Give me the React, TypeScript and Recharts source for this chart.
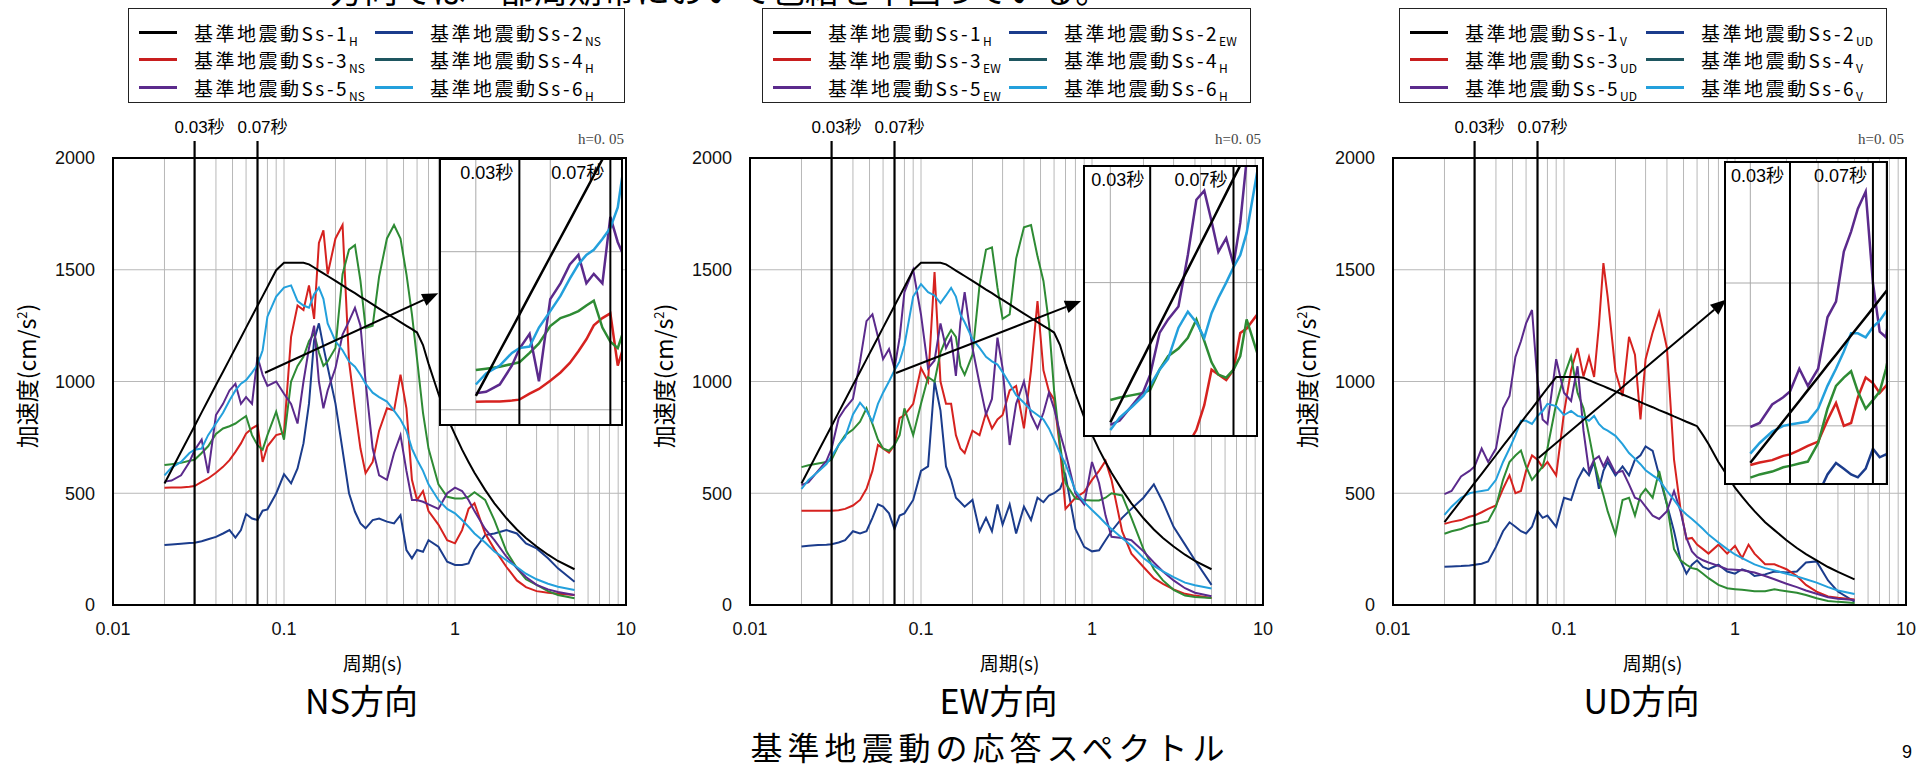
import React from "react"
import {
  CartesianGrid,
  ComposedChart,
  Line,
  ReferenceArea,
  ReferenceLine,
  XAxis,
  YAxis,
} from "recharts"

// periods (s) shared by every series
const PERIODS = [
  0.02, 0.022, 0.025, 0.028, 0.03, 0.033, 0.036, 0.04, 0.044, 0.048,
  0.052, 0.056, 0.06, 0.065, 0.07, 0.075, 0.08, 0.09, 0.1, 0.11,
  0.12, 0.13, 0.14, 0.15, 0.16, 0.17, 0.18, 0.2, 0.22, 0.24,
  0.26, 0.28, 0.3, 0.33, 0.36, 0.4, 0.44, 0.48, 0.52, 0.56,
  0.6, 0.65, 0.7, 0.8, 0.9, 1.0, 1.1, 1.2, 1.3, 1.5,
  1.7, 2.0, 2.3, 2.6, 3.0, 3.5, 4.0, 5.0,
]

// Ss-1 (horizontal, same for NS and EW) and Ss-1 vertical
const SS1_H = [
  544, 604, 686, 757, 801, 862, 917, 984, 1044, 1099,
  1150, 1197, 1241, 1292, 1339, 1382, 1423, 1498, 1531, 1531,
  1531, 1531, 1524, 1510, 1496, 1484, 1472, 1450, 1430, 1411,
  1395, 1379, 1365, 1345, 1326, 1304, 1284, 1266, 1249, 1234,
  1219, 1163, 1080, 945, 840, 762, 695, 640, 592, 515,
  455, 388, 338, 300, 262, 225, 197, 160,
]
const SS1_V = [
  371, 412, 467, 516, 546, 587, 625, 670, 712, 749,
  784, 816, 846, 880, 912, 942, 970, 1020, 1020, 1020,
  1020, 1017, 1006, 996, 987, 979, 971, 956, 942, 930,
  919, 908, 898, 885, 872, 858, 844, 832, 820, 810,
  800, 760, 720, 640, 580, 525, 485, 450, 420, 370,
  335, 290, 255, 228, 200, 170, 148, 115,
]

// NS direction
const NS_SS2 = [
  268, 271, 274, 277, 279, 285, 294, 305, 320, 335,
  302, 335, 407, 387, 380, 422, 428, 499, 585, 544,
  611, 723, 901, 1185, 1260, 1155, 1065, 901, 693, 500,
  417, 365, 343, 380, 387, 373, 365, 402, 246, 209,
  246, 238, 290, 261, 194, 179, 179, 186, 246, 313,
  320, 335, 320, 276, 253, 209, 164, 104,
]
const NS_SS3 = [
  525, 526, 526, 529, 532, 551, 566, 592, 618, 648,
  685, 723, 767, 790, 805, 640, 710, 760, 770, 1200,
  1340, 1320, 1430, 1280, 1620, 1676, 1480, 1640, 1700, 1090,
  880, 700, 590, 640, 780, 880, 870, 1030, 880, 560,
  470, 510, 420, 360, 290, 276, 335, 430, 455, 320,
  250, 170, 110, 80, 62, 55, 50, 45,
]
const NS_SS4 = [
  626, 630, 636, 645, 650, 680, 710, 765, 790, 800,
  812, 830, 845, 760, 715, 695, 760, 865, 740, 1000,
  1070, 1110, 1180, 1215, 1130, 1070, 1090, 1150, 1480, 1590,
  1610, 1450, 1240, 1250, 1470, 1640, 1700, 1640, 1480, 1300,
  1100, 860, 700, 540, 484, 477, 477, 484, 505, 470,
  380, 240, 165, 115, 90, 62, 45, 30,
]
const NS_SS5 = [
  552, 557, 580, 640, 693, 740, 590, 850, 900, 960,
  990, 900, 930, 900, 1110, 1030, 980, 1000, 945, 900,
  812, 1000, 1150, 1250, 1000, 880, 960, 1060, 1210, 1270,
  1330, 1250, 1000, 700, 580, 560, 680, 760, 600, 470,
  470, 462, 450, 430, 500, 525, 510, 470, 420, 340,
  290, 216, 165, 125, 90, 70, 58, 45,
]
const NS_SS6 = [
  580, 615, 640, 680, 695, 700, 760, 812, 860, 915,
  960, 990, 1006, 1040, 1075, 1140, 1290, 1380, 1420, 1430,
  1360, 1340, 1330, 1390, 1420, 1370, 1260, 1180, 1140, 1090,
  1066, 1030, 990, 950, 930, 910, 870, 830, 780, 700,
  650, 600, 540, 470, 430, 410, 380, 350, 320, 280,
  240, 200, 170, 140, 115, 95, 82, 67,
]

// EW direction
const EW_SS2 = [
  262, 265, 268, 270, 272, 280, 290, 330, 320, 330,
  390, 450, 440, 410, 340, 400, 410, 470, 600, 620,
  1000, 870, 620, 560, 480, 460, 440, 470, 330, 390,
  330, 450, 360, 450, 320, 440, 380, 480, 460, 490,
  500, 520, 580, 340, 260, 240, 245, 290, 330, 390,
  430, 480, 540, 460, 350, 270, 200, 90,
]
const EW_SS3 = [
  422, 422, 422, 422, 422, 424, 430, 445, 470, 520,
  600, 716, 700, 682, 716, 836, 850, 900, 1060, 1000,
  1490, 1000, 900, 900, 760, 700, 680, 780, 760, 860,
  790, 830, 850, 960, 980, 790, 1050, 1360, 1050, 956,
  920, 700, 430, 480, 505, 560, 600, 645, 560, 330,
  230, 170, 120, 95, 70, 50, 42, 31,
]
const EW_SS4 = [
  617, 625, 633, 640, 650, 716, 760, 785, 820, 880,
  810, 740, 700, 690, 716, 760, 880, 760, 900, 1020,
  1000, 1130, 1190, 1230, 1200, 1070, 1030, 1120, 1430, 1590,
  1600, 1420, 1280, 1300, 1550, 1690, 1700, 1560, 1450, 1260,
  960, 720, 545, 476, 470, 468, 468, 480, 500, 490,
  390, 250, 160, 110, 68, 42, 36, 31,
]
const EW_SS5 = [
  536, 550, 600, 645, 700, 836, 880, 922, 1090, 1270,
  1300, 1200, 1100, 1145, 1059, 1196, 1400, 1500, 1299, 1059,
  1094, 1260, 1150, 1196, 1025, 1265, 1400, 1150, 990, 853,
  922, 1196, 1060, 716, 900, 1000, 850, 790, 860, 950,
  880, 770, 682, 500, 450, 640, 545, 400, 305, 300,
  290, 240, 190, 150, 110, 75, 55, 39,
]
const EW_SS6 = [
  519, 560, 596, 631, 665, 716, 751, 853, 905, 870,
  820, 900, 950, 1000, 1050, 1090, 1162, 1380, 1436, 1400,
  1385, 1351, 1385, 1419, 1380, 1300, 1265, 1190, 1150, 1110,
  1090, 1076, 1042, 990, 939, 905, 871, 850, 830, 790,
  740, 680, 630, 511, 460, 425, 395, 365, 340, 300,
  265, 210, 175, 150, 125, 100, 88, 74,
]

// UD direction
const UD_SS2 = [
  171, 172, 174, 177, 180, 185, 195, 260, 330, 370,
  350, 330, 320, 350, 420, 390, 400, 350, 480, 470,
  560, 610, 580, 640, 520, 600, 640, 580, 620, 580,
  650, 670, 710, 690, 580, 450, 330, 200, 140, 180,
  200, 170, 160, 180, 150, 140, 160, 150, 130, 137,
  150, 145, 150, 190, 195, 110, 60, 15,
]
const UD_SS3 = [
  363, 372, 380, 395, 400, 415, 430, 445, 520, 580,
  500, 510, 600, 669, 650, 615, 640, 580, 860, 1050,
  1150, 1023, 1110, 1020, 1250, 1530, 1380, 1045, 935, 1200,
  1120, 830, 1100, 1220, 1311, 1150, 650, 430, 295, 300,
  270, 250, 230, 270, 230, 265, 210, 270, 230, 182,
  182, 160, 130, 90, 60, 38, 32, 25,
]
const UD_SS4 = [
  319, 330, 340, 355, 360, 368, 375, 440, 560, 640,
  669, 691, 620, 560, 590, 620, 700, 900, 1023, 1112,
  950, 880, 760, 640, 560, 492, 420, 315, 470, 480,
  400, 490, 520, 480, 600, 450, 250, 200, 180, 165,
  160, 140, 120, 90, 75, 71, 68, 65, 62, 62,
  70, 62, 55, 45, 30, 18, 14, 9,
]
const UD_SS5 = [
  496, 510, 575, 600, 620, 700, 640, 700, 880, 935,
  1110, 1180, 1260, 1320, 1000, 830, 810, 1100, 950, 913,
  1068, 780, 600, 650, 665, 620, 660, 590, 600, 540,
  480, 470, 440, 400, 385, 420, 510, 420, 300, 240,
  215, 200, 190, 175, 160, 158, 156, 150, 145, 130,
  115, 95, 80, 65, 50, 35, 28, 22,
]
const UD_SS6 = [
  403, 440, 480, 500, 505, 510, 515, 560, 640, 700,
  760, 824, 824, 810, 846, 868, 900, 890, 850, 868,
  846, 840, 824, 846, 810, 790, 780, 757, 720, 680,
  655, 630, 603, 580, 560, 510, 470, 430, 405, 385,
  365, 340, 315, 280, 250, 226, 210, 195, 182, 165,
  155, 140, 128, 115, 100, 80, 65, 49,
]

const X_TICKS = [0.01, 0.1, 1, 10]
const Y_TICKS = [0, 500, 1000, 1500, 2000]
const Y_MINOR = [
  100, 200, 300, 400, 500, 600, 700, 800, 900, 1000,
  1100, 1200, 1300, 1400, 1500, 1600, 1700, 1800, 1900,
]
const GRID_X = [
  0.02, 0.03, 0.04, 0.05, 0.06, 0.07, 0.08, 0.09, 0.1,
  0.2, 0.3, 0.4, 0.5, 0.6, 0.7, 0.8, 0.9, 1,
  2, 3, 4, 5, 6, 7, 8, 9,
]
const GRID_Y = [500, 1000, 1500]
const INSET_GRID_X = [0.02, 0.04, 0.05, 0.06, 0.08]
const INSET_GRID_Y = [500, 1000]

const SUBS_NS = ["H", "NS", "NS", "H", "NS", "H"]
const SUBS_EW = ["H", "EW", "EW", "H", "EW", "H"]
const SUBS_UD = ["V", "UD", "UD", "V", "UD", "V"]

const KEYS = ["s1", "s2", "s3", "s4", "s5", "s6"]
const LINE_COLORS = ["#000000", "#1b3c8c", "#d6221f", "#2e8b34", "#5b2a8c", "#23a0dc"]
const LEGEND_COLORS = ["#000000", "#1b3c8c", "#c81e1e", "#1e5660", "#5b2a8c", "#23a0dc"]

const JP = '"Noto Sans CJK JP", sans-serif'
const NUM = '"Liberation Sans", Arial, "Noto Sans CJK JP", sans-serif'
const TICK = { fontSize: 18, fill: "#111", fontFamily: NUM }

function buildRows(series: number[][]) {
  return PERIODS.map((p, i) => {
    const row: Record<string, number> = { p }
    series.forEach((s, k) => {
      row[KEYS[k]] = s[i]
    })
    return row
  })
}

const NS_ROWS = buildRows([SS1_H, NS_SS2, NS_SS3, NS_SS4, NS_SS5, NS_SS6])
const EW_ROWS = buildRows([SS1_H, EW_SS2, EW_SS3, EW_SS4, EW_SS5, EW_SS6])
const UD_ROWS = buildRows([SS1_V, UD_SS2, UD_SS3, UD_SS4, UD_SS5, UD_SS6])

function arrowShape(props: any) {
  const { x1, y1, x2, y2 } = props
  const a = Math.atan2(y2 - y1, x2 - x1)
  const len = 16
  const half = 6.5
  const bx = x2 - len * Math.cos(a)
  const by = y2 - len * Math.sin(a)
  const nx = -Math.sin(a) * half
  const ny = Math.cos(a) * half
  return (
    <g>
      <line x1={x1} y1={y1} x2={bx} y2={by} stroke="#000" strokeWidth={2} />
      <polygon points={`${x2},${y2} ${bx + nx},${by + ny} ${bx - nx},${by - ny}`} fill="#000" />
    </g>
  )
}

const markShape = (text: string) => (props: any) => {
  const { x1, y1, x2, y2 } = props
  const top = Math.min(y1, y2)
  return (
    <g>
      <line x1={x1} y1={y1} x2={x2} y2={y2} stroke="#000" strokeWidth={2.2} />
      <text x={x1 + 5} y={top - 12} textAnchor="middle" dominantBaseline="middle" fontSize={17} fontFamily={NUM} fill="#000">
        {text}
      </text>
    </g>
  )
}

function Txt({ x, y, size, family = JP, color = "#000", spacing = 0, children }: any) {
  return (
    <div
      style={{
        position: "absolute",
        left: x,
        top: y,
        transform: "translate(-50%, -50%)",
        fontSize: size,
        fontFamily: family,
        color,
        letterSpacing: spacing,
        whiteSpace: "nowrap",
        lineHeight: 1,
      }}
    >
      {children}
    </div>
  )
}

function LegendBox({ left, width, subs }: { left: number; width: number; subs: string[] }) {
  return (
    <div
      style={{
        position: "absolute",
        left,
        top: 8,
        width,
        height: 95,
        border: "1.5px solid #222",
        background: "#fff",
        boxSizing: "border-box",
      }}
    >
      {subs.map((sub, i) => {
        const row = Math.floor(i / 2)
        const col = i % 2
        return (
          <div
            key={i}
            style={{
              position: "absolute",
              left: col ? 246 : 10,
              top: 12 + row * 27.5,
              height: 22,
              display: "flex",
              alignItems: "center",
            }}
          >
            <span style={{ display: "inline-block", width: 38, borderTop: `3px solid ${LEGEND_COLORS[i]}` }} />
            <span style={{ marginLeft: 17, fontSize: 19, fontFamily: JP, letterSpacing: 2.5, whiteSpace: "nowrap" }}>
              基準地震動Ss-{i + 1}
              <span style={{ fontSize: 12, position: "relative", top: 5, letterSpacing: 0 }}>{sub}</span>
            </span>
          </div>
        )
      })}
    </div>
  )
}

interface InsetSpec {
  left: number
  top: number
  w: number
  h: number
  xd: [number, number]
  yd: [number, number]
}

function Inset({ rows, spec }: { rows: Record<string, number>[]; spec: InsetSpec }) {
  const label = { position: "insideTopRight" as const, offset: 6, fontSize: 18, fill: "#000", fontFamily: NUM }
  return (
    <div
      style={{
        position: "absolute",
        left: spec.left,
        top: spec.top,
        width: spec.w,
        height: spec.h,
        background: "#fff",
        border: "2px solid #000",
        boxSizing: "border-box",
      }}
    >
      <ComposedChart width={spec.w - 4} height={spec.h - 4} data={rows} margin={{ top: 0, right: 0, bottom: 0, left: 0 }}>
        <CartesianGrid verticalValues={INSET_GRID_X} horizontalValues={INSET_GRID_Y} stroke="#aaa" />
        <XAxis dataKey="p" type="number" scale="log" domain={spec.xd} allowDataOverflow hide />
        <YAxis domain={spec.yd} allowDataOverflow hide />
        {[1, 2, 3, 4, 5, 0].map((i) => (
          <Line
            key={KEYS[i]}
            dataKey={KEYS[i]}
            stroke={LINE_COLORS[i]}
            strokeWidth={2.5}
            dot={false}
            type="linear"
            isAnimationActive={false}
          />
        ))}
        <ReferenceLine x={0.03} stroke="#000" strokeWidth={2} label={{ ...label, value: "0.03秒" }} />
        <ReferenceLine x={0.07} stroke="#000" strokeWidth={2} label={{ ...label, value: "0.07秒" }} />
      </ComposedChart>
    </div>
  )
}

interface PanelProps {
  ox: number
  rows: Record<string, number>[]
  subs: string[]
  name: string
  legendLeft: number
  legendWidth: number
  inset: InsetSpec
  arrow: { x: number; y: number }[]
}

function Panel({ ox, rows, subs, name, legendLeft, legendWidth, inset, arrow }: PanelProps) {
  const plotLeft = 113
  const plotRight = 626
  const cx = (plotLeft + plotRight) / 2
  return (
    <div style={{ position: "absolute", left: ox, top: 0, width: 640, height: 776 }}>
      <LegendBox left={legendLeft} width={legendWidth} subs={subs} />
      <div style={{ position: "absolute", left: 0, top: 0 }}>
        <ComposedChart width={640} height={650} data={rows} margin={{ top: 158, right: 14, bottom: 5, left: 53 }}>
          <CartesianGrid verticalValues={GRID_X} horizontalValues={GRID_Y} stroke="#b8b8b8" />
          <XAxis
            dataKey="p"
            type="number"
            scale="log"
            domain={[0.01, 10]}
            ticks={X_TICKS}
            interval={0}
            tickFormatter={(v) => String(v)}
            axisLine={false}
            tickLine={false}
            tickSize={0}
            tickMargin={17}
            height={40}
            tick={TICK}
          />
          <YAxis
            domain={[0, 2000]}
            ticks={Y_TICKS}
            interval={0}
            axisLine={false}
            tickLine={false}
            tickSize={0}
            tickMargin={18}
            width={60}
            tick={TICK}
          />
          <YAxis
            yAxisId="m"
            orientation="left"
            mirror
            domain={[0, 2000]}
            ticks={Y_MINOR}
            interval={0}
            tick={false}
            axisLine={false}
            tickLine={{ stroke: "#000" }}
            tickSize={6}
            width={1}
          />
          {[1, 2, 3, 4, 5, 0].map((i) => (
            <Line
              key={KEYS[i]}
              dataKey={KEYS[i]}
              stroke={LINE_COLORS[i]}
              strokeWidth={2}
              dot={false}
              type="linear"
              isAnimationActive={false}
            />
          ))}
          <ReferenceArea x1={0.01} x2={10} y1={0} y2={2000} fill="none" stroke="#000" strokeWidth={2} ifOverflow="visible" />
          <ReferenceLine
            segment={[{ x: 0.03, y: 0 }, { x: 0.03, y: 2076 }]}
            ifOverflow="visible"
            shape={markShape("0.03秒")}
          />
          <ReferenceLine
            segment={[{ x: 0.07, y: 0 }, { x: 0.07, y: 2076 }]}
            ifOverflow="visible"
            shape={markShape("0.07秒")}
          />
          <ReferenceLine segment={arrow} ifOverflow="visible" shape={arrowShape} />
        </ComposedChart>
      </div>
      <Inset rows={rows} spec={inset} />
      <div
        style={{
          position: "absolute",
          right: 640 - plotRight + 2,
          top: 131,
          fontSize: 15,
          fontFamily: '"Liberation Serif", "DejaVu Serif", serif',
          color: "#444",
          whiteSpace: "nowrap",
        }}
      >
        h=0. 05
      </div>
      <Txt x={plotLeft - 87} y={376} size={23}>
        <div style={{ transform: "rotate(-90deg)" }}>
          加速度(cm/s<sup style={{ fontSize: 13 }}>2</sup>)
        </div>
      </Txt>
      <Txt x={cx + 3} y={662} size={19}>周期(s)</Txt>
      <Txt x={cx - 8} y={700} size={34}>{name}</Txt>
    </div>
  )
}

export default function App() {
  return (
    <div
      style={{
        position: "absolute",
        left: 0,
        top: 0,
        width: 1918,
        height: 776,
        overflow: "hidden",
        background: "#fff",
        fontFamily: JP,
      }}
    >
      <div
        style={{
          position: "absolute",
          left: 330,
          top: -28,
          fontSize: 34,
          fontFamily: JP,
          whiteSpace: "nowrap",
          lineHeight: 1,
        }}
      >
        方向では一部周期帯において包絡を下回っている。
      </div>
      <Panel
        ox={0}
        rows={NS_ROWS}
        subs={SUBS_NS}
        name="NS方向"
        legendLeft={128}
        legendWidth={497}
        inset={{ left: 439, top: 158, w: 184, h: 268, xd: [0.01446, 0.0773], yd: [455, 1290] }}
        arrow={[{ x: 0.0774, y: 1039 }, { x: 0.798, y: 1395 }]}
      />
      <Panel
        ox={637}
        rows={EW_ROWS}
        subs={SUBS_EW}
        name="EW方向"
        legendLeft={125}
        legendWidth={489}
        inset={{ left: 446, top: 165, w: 175, h: 272, xd: [0.01546, 0.088], yd: [503, 1377] }}
        arrow={[{ x: 0.0714, y: 1038 }, { x: 0.863, y: 1360 }]}
      />
      <Panel
        ox={1280}
        rows={UD_ROWS}
        subs={SUBS_UD}
        name="UD方向"
        legendLeft={119}
        legendWidth={488}
        inset={{ left: 444, top: 161, w: 164, h: 324, xd: [0.0156, 0.08], yd: [300, 1420] }}
        arrow={[{ x: 0.0709, y: 658 }, { x: 0.891, y: 1367 }]}
      />
      <Txt x={990} y={746} size={32} spacing={5}>
        基準地震動の応答スペクトル
      </Txt>
      <Txt x={1907} y={752} size={18} family={NUM}>
        9
      </Txt>
    </div>
  )
}
